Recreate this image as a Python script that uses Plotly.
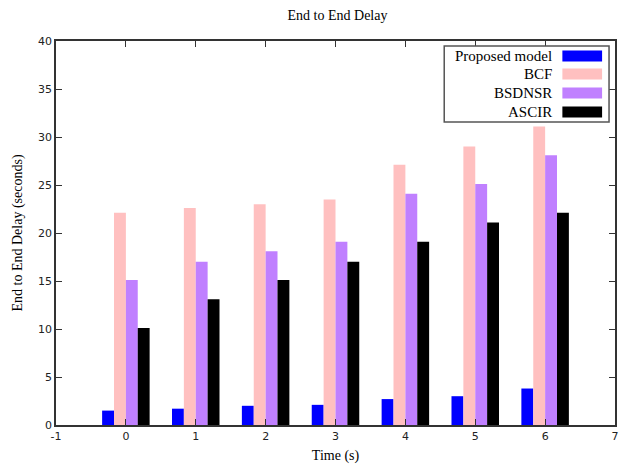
import plotly.graph_objects as go

times = [0, 1, 2, 3, 4, 5, 6]
series_names = ["Proposed model", "BCF", "BSDNSR", "ASCIR"]
proposed = [1.5, 1.7, 2.0, 2.1, 2.7, 3.0, 3.8]
bcf = [22.1, 22.6, 23.0, 23.5, 27.1, 29.0, 31.1]
bsdnsr = [15.1, 17.0, 18.1, 19.1, 24.1, 25.1, 28.1]
ascir = [10.1, 13.1, 15.1, 17.0, 19.1, 21.1, 22.1]
colors = ["#0000ff", "#ffc0c0", "#c080ff", "#000000"]
x_ticks = [-1, 0, 1, 2, 3, 4, 5, 6, 7]
y_ticks = [0, 5, 10, 15, 20, 25, 30, 35, 40]

W, H = 623, 470
L, R, T, B = 56, 4, 41, 45
pw, ph = W - L - R, H - T - B

def px(x):
    return (x - L) / pw

def py(y):
    return (H - B - y) / ph

fig = go.Figure()
for name, vals, c in zip(series_names, [proposed, bcf, bsdnsr, ascir], colors):
    fig.add_trace(go.Bar(x=times, y=vals, name=name, marker=dict(color=c, line=dict(width=0)),
                         showlegend=False))

serif = "Liberation Serif"
axis_common = dict(showline=True, linecolor="#333333", linewidth=1.5, mirror="ticks",
                   ticks="inside", ticklen=6, tickcolor="#333333", tickwidth=1,
                   showgrid=False, zeroline=False,
                   tickfont=dict(family="DejaVu Sans", size=11, color="#222222"))

fig.update_layout(
    width=W, height=H,
    margin=dict(l=L, r=R, t=T, b=B),
    plot_bgcolor="white", paper_bgcolor="white",
    barmode="group", bargap=0.32, bargroupgap=0,
    title=dict(text="End to End Delay", x=(L + pw / 2) / W, xanchor="center",
               y=1 - 15 / H, yanchor="middle", font=dict(family=serif, size=14, color="black")),
    xaxis=dict(range=[-1, 7], tickvals=x_ticks, ticktext=[str(v) for v in x_ticks],
               title=dict(text="Time (s)", font=dict(family=serif, size=14, color="black"), standoff=8),
               **axis_common),
    yaxis=dict(range=[0, 40], tickvals=y_ticks,
               title=dict(text="End to End Delay (seconds)", font=dict(family=serif, size=14, color="black"), standoff=12),
               **axis_common),
)

# custom legend (text right, swatch on right side, gnuplot style)
shapes = [dict(type="rect", xref="paper", yref="paper", x0=px(447), x1=px(613), y0=py(122), y1=py(46),
               line=dict(color="#555555", width=1.5), fillcolor="white", layer="above")]
annotations = []
rows = [56, 74, 93, 112]
for name, c, yc in zip(series_names, colors, rows):
    shapes.append(dict(type="rect", xref="paper", yref="paper", x0=px(566), x1=px(606),
                       y0=py(yc + 5.5), y1=py(yc - 5.5), line=dict(width=0), fillcolor=c, layer="above"))
    annotations.append(dict(text=name, xref="paper", yref="paper", x=px(558), y=py(yc),
                            xanchor="right", yanchor="middle", showarrow=False,
                            font=dict(family=serif, size=15, color="black")))
fig.update_layout(shapes=shapes, annotations=annotations)

fig.write_html("out.html")
